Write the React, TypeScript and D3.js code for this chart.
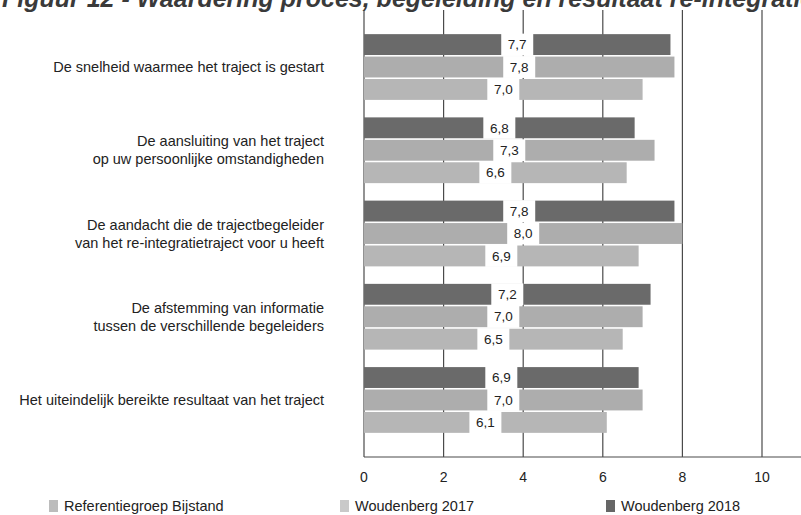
import React from "react";
import * as d3 from "d3";

const categories: string[][] = [
  ["De snelheid waarmee het traject is gestart"],
  ["De aansluiting van het traject", "op uw persoonlijke omstandigheden"],
  ["De aandacht die de trajectbegeleider", "van het re-integratietraject voor u heeft"],
  ["De afstemming van informatie", "tussen de verschillende begeleiders"],
  ["Het uiteindelijk bereikte resultaat van het traject"],
];

const seriesNames = ["Woudenberg 2018", "Woudenberg 2017", "Referentiegroep Bijstand"];
const woudenberg2018 = [7.7, 6.8, 7.8, 7.2, 6.9];
const woudenberg2017 = [7.8, 7.3, 8.0, 7.0, 7.0];
const referentie = [7.0, 6.6, 6.9, 6.5, 6.1];
const seriesValues = [woudenberg2018, woudenberg2017, referentie];
const seriesColors = ["#6a6a6a", "#adadad", "#b6b6b6"];
const legendColors = ["#666666", "#c9c9c9", "#bcbcbc"];

const xTicks = [0, 2, 4, 6, 8, 10];
const legendOrder = [2, 1, 0];

const title = "Figuur 12 - Waardering proces, begeleiding en resultaat re-integratie";

const W = 801;
const H = 515;
const FONT = "'Liberation Sans', Arial, sans-serif";

export default function App() {
  const x = d3.scaleLinear().domain([0, 11]).range([364, 801.8]);
  const y = d3
    .scaleBand<number>()
    .domain(d3.range(categories.length))
    .range([10, 457])
    .paddingInner(0.21)
    .paddingOuter(0.29);
  const inner = d3
    .scaleBand<number>()
    .domain(d3.range(seriesNames.length))
    .range([0, y.bandwidth()])
    .paddingInner(0.07);

  const fmt = (v: number) => v.toFixed(1).replace(".", ",");
  const legendX = [49, 340, 606];

  return (
    <svg
      width={W}
      height={H}
      style={{ position: "absolute", left: 0, top: 0, background: "#fff" }}
      fontFamily={FONT}
    >
      <rect width={W} height={H} fill="#fff" />
      <text
        x={2}
        y={7}
        fontSize={25}
        fontStyle="italic"
        fontWeight="bold"
        fill="#3a3a3a"
      >
        {title}
      </text>

      {/* gridlines */}
      {xTicks.map((t) => (
        <line
          key={t}
          x1={x(t)}
          x2={x(t)}
          y1={10}
          y2={457}
          stroke="#4a4a4a"
          strokeWidth={1.2}
        />
      ))}
      <line x1={x(0)} x2={W} y1={457} y2={457} stroke="#4a4a4a" strokeWidth={1.2} />

      {/* bars with centred value labels */}
      {categories.map((_, ci) => (
        <g key={ci} transform={`translate(0,${y(ci)})`}>
          {seriesValues.map((vals, si) => {
            const v = vals[ci];
            const by = inner(si)!;
            const bh = inner.bandwidth();
            const cx = x(v / 2);
            return (
              <g key={si}>
                <rect
                  x={x(0)}
                  y={by}
                  width={x(v) - x(0)}
                  height={bh}
                  fill={seriesColors[si]}
                />
                <rect x={cx - 16} y={by - 0.5} width={32} height={bh + 1} fill="#fff" />
                <text
                  x={cx}
                  y={by + bh / 2}
                  dy="0.35em"
                  textAnchor="middle"
                  fontSize={13.5}
                  fill="#222"
                >
                  {fmt(v)}
                </text>
              </g>
            );
          })}
        </g>
      ))}

      {/* category labels */}
      {categories.map((lines, ci) => {
        const cy = y(ci)! + y.bandwidth() / 2;
        return (
          <text key={ci} textAnchor="end" fontSize={14.5} fill="#222">
            {lines.map((ln, li) => (
              <tspan
                key={li}
                x={324}
                y={cy + (li - (lines.length - 1) / 2) * 18}
                dy="0.35em"
              >
                {ln}
              </tspan>
            ))}
          </text>
        );
      })}

      {/* x tick labels */}
      {xTicks.map((t) => (
        <text
          key={t}
          x={x(t)}
          y={477}
          dy="0.35em"
          textAnchor="middle"
          fontSize={14}
          fill="#222"
        >
          {t}
        </text>
      ))}

      {/* legend */}
      {legendOrder.map((si, i) => (
        <g key={si} transform={`translate(${legendX[i]},506)`}>
          <rect x={0} y={-6} width={9} height={12} fill={legendColors[si]} />
          <text x={15} y={0} dy="0.35em" fontSize={14.5} fill="#222">
            {seriesNames[si]}
          </text>
        </g>
      ))}
    </svg>
  );
}
